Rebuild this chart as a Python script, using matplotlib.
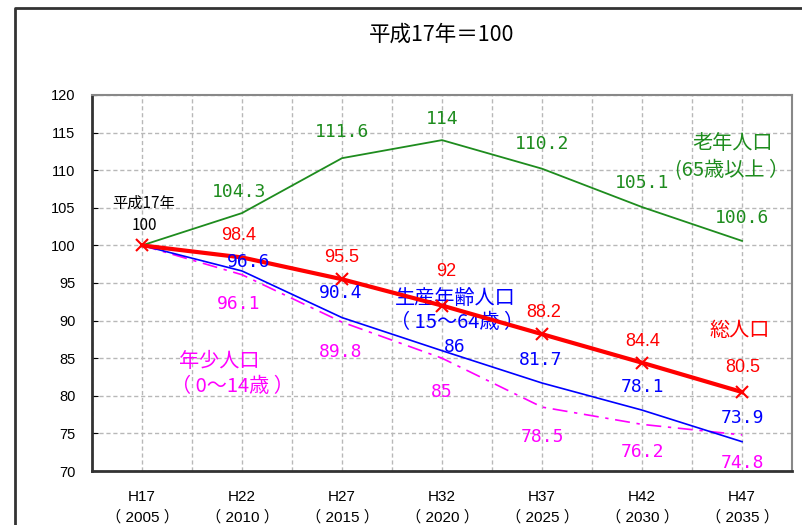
import matplotlib
matplotlib.use("Agg")
import matplotlib.pyplot as plt
from matplotlib.lines import Line2D

# data
categories = ["H17\n（ 2005 ）", "H22\n（ 2010 ）", "H27\n（ 2015 ）", "H32\n（ 2020 ）",
              "H37\n（ 2025 ）", "H42\n（ 2030 ）", "H47\n（ 2035 ）"]
total = [100, 98.4, 95.5, 92, 88.2, 84.4, 80.5]
working = [100, 96.6, 90.4, 86, 81.7, 78.1, 73.9]
young = [100, 96.1, 89.8, 85, 78.5, 76.2, 74.8]
elderly = [100, 104.3, 111.6, 114, 110.2, 105.1, 100.6]
total_labels = ["", "98.4", "95.5", "92", "88.2", "84.4", "80.5"]
working_labels = ["", "96.6", "90.4", "86", "81.7", "78.1", "73.9"]
young_labels = ["", "96.1", "89.8", "85", "78.5", "76.2", "74.8"]
elderly_labels = ["", "104.3", "111.6", "114", "110.2", "105.1", "100.6"]

# label offsets in pixels (dx, dy)
total_off = [(0, 0), (-3, 22), (0, 22), (4, 34), (2, 22), (1, 21), (1, 25)]
working_off = [(0, 0), (7, 9), (-1, 25), (13, 4), (-1, 23), (0, 23), (1, 24)]
young_off = [(0, 0), (-3, -29), (-1, -30), (0, -34), (1, -30), (1, -28), (1, -28)]
elderly_off = [(0, 0), (-3, 21), (0, 26), (0, 21), (0, 25), (0, 24), (0, 23)]

cjk = ["Noto Sans CJK JP", "DejaVu Sans"]
latin = ["Liberation Sans", "Noto Sans CJK JP"]
mono = ["DejaVu Sans Mono", "Noto Sans CJK JP"]

GREEN = "#1e8c1e"
RED = "#ff0000"
BLUE = "#0000ff"
MAGENTA = "#ff00ff"

fig = plt.figure(figsize=(8.02, 5.25), dpi=100)
ax = fig.add_axes([92 / 802, 1 - 471 / 525, (792 - 92) / 802, (471 - 95) / 525])

x = list(range(len(categories)))

ax.plot(x, elderly, color=GREEN, lw=1.3, zorder=3)
ax.plot(x, young, color=MAGENTA, lw=1.2, dashes=(9, 4, 2, 4), zorder=3)
ax.plot(x, working, color=BLUE, lw=1.2, zorder=4)
ax.plot(x, total, color=RED, lw=3.0, marker="x", markersize=8,
        markeredgewidth=1.5, markevery=[0, 2, 3, 4, 5, 6], zorder=5)


def put_labels(vals, labels, offs, color, family, size):
    for i, (v, t) in enumerate(zip(vals, labels)):
        if not t:
            continue
        ax.annotate(t, (i, v), xytext=offs[i], textcoords="offset pixels",
                    ha="center", va="center", color=color, fontsize=size,
                    family=family, zorder=6)


put_labels(elderly, elderly_labels, elderly_off, GREEN, mono, 13)
put_labels(total, total_labels, total_off, RED, latin, 13)
put_labels(working, working_labels, working_off, BLUE, mono, 13)
put_labels(young, young_labels, young_off, MAGENTA, mono, 13)

# series names
name_kw = dict(fontsize=14.5, family=cjk, ha="center", va="center")
ax.text(5.91, 113.6, "老年人口", color=GREEN, **name_kw)
ax.text(5.9, 110.0, "(65歳以上 ）", color=GREEN, **name_kw)
ax.text(3.13, 93.0, "生産年齢人口", color=BLUE, **name_kw)
ax.text(3.15, 89.8, "（ 15～64歳 ）", color=BLUE, **name_kw)
ax.text(5.98, 88.75, "総人口", color=RED, **name_kw)
ax.text(0.77, 84.5, "年少人口", color=MAGENTA, **name_kw)
ax.text(0.9, 81.2, "（ 0～14歳 ）", color=MAGENTA, **name_kw)
ax.text(0.02, 105.6, "平成17年", color="black", fontsize=11, family=cjk, ha="center", va="center")
ax.text(0.02, 102.7, "100", color="black", fontsize=11, family=cjk, ha="center", va="center")

ax.set_xlim(-0.5, 6.5)
ax.set_ylim(70, 120)
ax.set_yticks(range(70, 121, 5))
ax.set_xticks(x)
ax.set_xticklabels(categories, family=latin, fontsize=11, linespacing=1.45)
ax.set_xticks([i + 0.5 for i in range(-1, 7)], minor=True)
ax.tick_params(axis="x", which="both", length=0, pad=14)
ax.tick_params(axis="y", direction="in", length=4, pad=12, labelsize=10.5)
for lab in ax.get_yticklabels():
    lab.set_family(latin)

ax.grid(True, which="both", axis="x", color="#b8b8b8", ls=(0, (3, 2)), lw=1)
ax.grid(True, which="major", axis="y", color="#b8b8b8", ls=(0, (3, 2)), lw=1)
ax.set_axisbelow(True)

for s in ["left", "bottom"]:
    ax.spines[s].set_color("#333333")
    ax.spines[s].set_linewidth(2)
for s in ["top", "right"]:
    ax.spines[s].set_color("#888888")
    ax.spines[s].set_linewidth(1.5)

fig.text(442 / 802, 1 - 35 / 525, "平成17年＝100", ha="center", va="center",
         fontsize=15.5, family=cjk)

# outer frame
fig.add_artist(Line2D([15 / 802, 15 / 802, 1.0], [0.0, 1 - 8 / 525, 1 - 8 / 525],
                      transform=fig.transFigure, color="#333333", lw=2))

fig.savefig("out.png", dpi=100)
